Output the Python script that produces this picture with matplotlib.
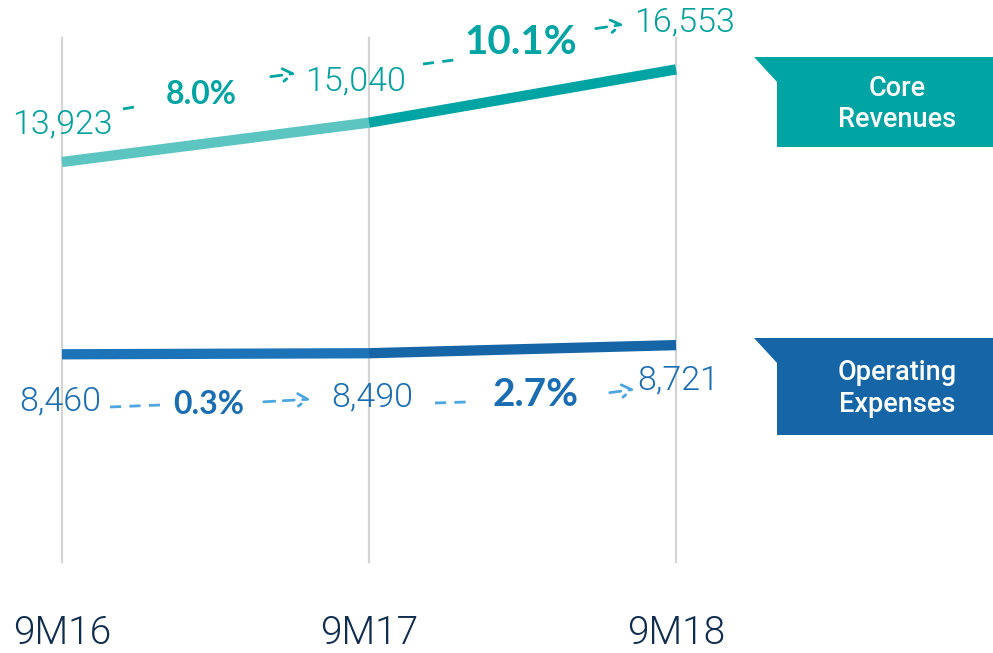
import matplotlib
matplotlib.use("Agg")
import matplotlib.pyplot as plt
from matplotlib.patches import Polygon, Rectangle

# ---- data ----
periods = ["9M16", "9M17", "9M18"]
core_revenues = [13923, 15040, 16553]
operating_expenses = [8460, 8490, 8721]
core_growth = ["8.0%", "10.1%"]
opex_growth = ["0.3%", "2.7%"]
series_names = ["Core\nRevenues", "Operating\nExpenses"]

# ---- colours ----
TEAL_LIGHT = "#5CC5C2"
TEAL = "#00A4A2"
TEAL_TEXT = "#00A09D"
BLUE_1 = "#1C73B8"
BLUE_2 = "#1665A6"
BLUE_TEXT = "#1B6DB2"
BLUE_DASH = "#4DA6E0"
NAVY = "#102C4E"
GRID = "#D4D4D4"

W, H = 993, 653
fig = plt.figure(figsize=(W / 100, H / 100), dpi=100)
ax = fig.add_axes([0, 0, 1, 1])
ax.set_xlim(-62 / 307, (W - 62) / 307)
ax.set_ylim(-26, 18525)
ax.axis("off")

NUM_FONT = ["Roboto", "DejaVu Sans"]
PCT_FONT = ["Lato", "DejaVu Sans"]
TICK_FONT = ["Roboto", "DejaVu Sans"]


def P(x, y):
    """pixel (from top-left) -> figure fraction, for layout only"""
    return (x / W, 1 - y / H)


xs = list(range(len(periods)))

# vertical guide lines
for x in xs:
    ax.axvline(x, ymin=1 - 562 / H, ymax=1 - 38 / H, color=GRID, lw=1.6, zorder=1)

# series lines
rev_cols = [TEAL_LIGHT, TEAL]
opx_cols = [BLUE_1, BLUE_2]
for i in range(len(xs) - 1):
    ax.plot(xs[i:i + 2], core_revenues[i:i + 2], color=rev_cols[i], lw=7.4,
            solid_capstyle="butt", zorder=3)
    ax.plot(xs[i:i + 2], operating_expenses[i:i + 2], color=opx_cols[i], lw=7.4,
            solid_capstyle="butt", zorder=3)

# value labels (offset in pixels from data point)
rev_off = [(0, 38), (-14, 41), (8, 47)]
opx_off = [(-2, -47), (3, -44), (2, -35)]
for x, v, (dx, dy) in zip(xs, core_revenues, rev_off):
    ax.annotate(f"{v:,}", (x, v), xytext=(dx * 0.72, dy * 0.72), textcoords="offset points",
                ha="center", va="center", fontsize=24.5, color=TEAL_TEXT,
                family=NUM_FONT, fontweight=300)
for x, v, (dx, dy) in zip(xs, operating_expenses, opx_off):
    ax.annotate(f"{v:,}", (x, v), xytext=(dx * 0.72, dy * 0.72), textcoords="offset points",
                ha="center", va="center", fontsize=24.5, color=BLUE_TEXT,
                family=NUM_FONT, fontweight=300)

# growth percentages
rev_pct_pos = [(201, 94, 23), (521, 43, 29)]
opx_pct_pos = [(209, 404, 23), (536, 394, 28)]
for txt, (px, py, fs) in zip(core_growth, rev_pct_pos):
    fig.text(*P(px, py), txt, ha="center", va="center", fontsize=fs, color=TEAL,
             family=PCT_FONT, fontweight="bold")
for txt, (px, py, fs) in zip(opex_growth, opx_pct_pos):
    fig.text(*P(px, py), txt, ha="center", va="center", fontsize=fs, color=BLUE_TEXT,
             family=PCT_FONT, fontweight="bold")


def dash(x0, y0, x1, y1, color, arrow=False):
    if arrow:
        fig.add_artist(matplotlib.patches.FancyArrowPatch(
            P(x0, y0), P(x1, y1), transform=fig.transFigure,
            arrowstyle="->,head_length=7,head_width=4.5", color=color, lw=2.0,
            linestyle=(0, (4, 3)), mutation_scale=1))
    else:
        fig.add_artist(plt.Line2D([x0 / W, x1 / W], [1 - y0 / H, 1 - y1 / H],
                                  transform=fig.transFigure, color=color, lw=2.0,
                                  linestyle=(0, (4, 3))))


# revenue connectors
dash(123, 109, 134, 107, TEAL)
dash(268, 77, 298, 73, TEAL, arrow=True)
dash(423, 64, 454, 60, TEAL)
dash(593, 29, 626, 24, TEAL, arrow=True)
# opex connectors
dash(110, 407, 160, 405, BLUE_DASH)
dash(261, 402, 313, 399, BLUE_DASH, arrow=True)
dash(435, 403, 466, 402, BLUE_DASH)
dash(607, 393, 637, 389, BLUE_DASH, arrow=True)

# legend flags
for (top, bot), col, name in zip([(57, 147), (338, 435)], [TEAL, BLUE_2], series_names):
    fig.add_artist(Rectangle(P(777, bot), (W - 777) / W, (bot - top) / H,
                             transform=fig.transFigure, color=col, lw=0))
    fig.add_artist(Polygon([P(754, top), P(778, top), P(778, top + 26)],
                           closed=True, transform=fig.transFigure, color=col, lw=0))
    fig.text(*P(897, (top + bot) / 2 + 2), name, ha="center", va="center",
             fontsize=19.5, color="white", family=NUM_FONT, fontweight=500,
             linespacing=1.2)

# x tick labels
for x, lab in zip(xs, periods):
    ax.annotate(lab, (x, 0), xycoords=("data", "axes fraction"),
                xytext=(0, (H - 633) * 0.72), textcoords="offset points",
                ha="center", va="center", fontsize=28, color=NAVY,
                family=TICK_FONT, fontweight=300)

fig.savefig("out.png", dpi=100)
